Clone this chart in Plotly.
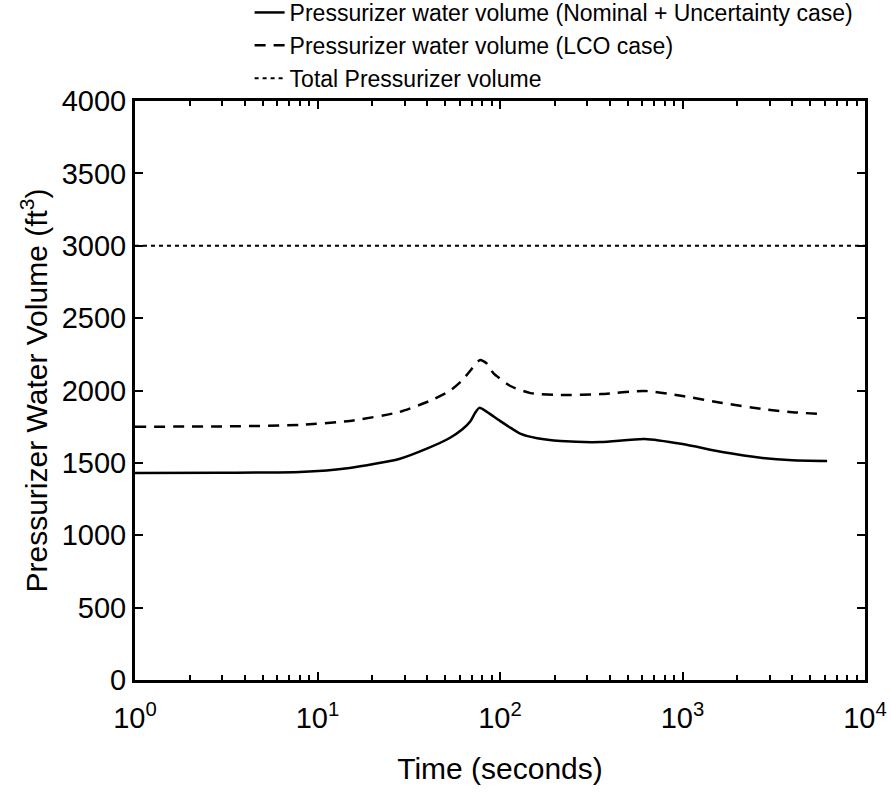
import plotly.graph_objects as go

# Data
time_nominal = [1, 3, 8, 15, 28, 40, 53, 62, 69, 73, 77, 82, 90, 100, 115, 130, 160, 215, 357, 620, 1000, 1650, 2740, 4000, 6200]
vol_nominal = [1430, 1432, 1437, 1465, 1527, 1600, 1672, 1730, 1790, 1845, 1880, 1865, 1830, 1790, 1740, 1700, 1670, 1651, 1644, 1665, 1630, 1575, 1534, 1518, 1513]

time_lco = [1, 3, 8, 15, 28, 41, 53, 62, 69, 74, 78, 84, 92, 114, 147, 215, 357, 620, 1000, 1650, 2740, 4000, 5650]
vol_lco = [1750, 1752, 1762, 1790, 1851, 1927, 1997, 2070, 2140, 2190, 2210, 2190, 2120, 2031, 1982, 1969, 1975, 1997, 1962, 1914, 1872, 1850, 1838]

time_total = [1, 10000]
vol_total = [3000, 3000]

names = [
    "Pressurizer water volume (Nominal + Uncertainty case)",
    "Pressurizer water volume (LCO case)",
    "Total Pressurizer volume",
]

x_tickvals = [1, 10, 100, 1000, 10000]
x_ticktext = ["10<sup>0</sup>", "10<sup>1</sup>", "10<sup>2</sup>", "10<sup>3</sup>", "10<sup>4</sup>"]
x_minor_vals = [m * d for d in [1, 10, 100, 1000] for m in range(2, 10)]
y_tickvals = [0, 500, 1000, 1500, 2000, 2500, 3000, 3500, 4000]

fig = go.Figure()
fig.add_trace(go.Scatter(x=time_nominal, y=vol_nominal, mode="lines", name=names[0],
                         line=dict(color="black", width=2.5, shape="spline", smoothing=0.6)))
fig.add_trace(go.Scatter(x=time_lco, y=vol_lco, mode="lines", name=names[1],
                         line=dict(color="black", width=2.5, dash="11px,8px", shape="spline", smoothing=0.6)))
fig.add_trace(go.Scatter(x=time_total, y=vol_total, mode="lines", name=names[2],
                         line=dict(color="black", width=2, dash="4px,4px")))

font_family = "Liberation Sans, Arial, sans-serif"

fig.update_layout(
    width=891, height=794,
    margin=dict(l=135, r=26, t=101, b=114, autoexpand=False),
    paper_bgcolor="white", plot_bgcolor="white",
    font=dict(family=font_family, color="black"),
    showlegend=True,
    legend=dict(x=0.157, y=1.19, xanchor="left", yanchor="top",
                font=dict(size=23, family=font_family, color="black"),
                bgcolor="rgba(0,0,0,0)", tracegroupgap=0, itemwidth=30),
)
fig.update_xaxes(
    type="log", range=[0, 4], automargin=False,
    tickvals=x_tickvals, ticktext=x_ticktext,
    ticks="inside", ticklen=8, tickwidth=2, tickcolor="black",
    minor=dict(tickvals=x_minor_vals, ticks="inside", ticklen=5, tickwidth=2, tickcolor="black", showgrid=False),
    showline=True, linewidth=3, linecolor="black", mirror="allticks",
    showgrid=False, zeroline=False, ticklabelstandoff=10,
    tickfont=dict(size=29, family=font_family),
    title=dict(text="Time (seconds)", font=dict(size=30, family=font_family), standoff=26),
)
fig.update_yaxes(
    range=[0, 4000], tickvals=y_tickvals, automargin=False,
    ticks="inside", ticklen=8, tickwidth=2, tickcolor="black",
    showline=True, linewidth=3, linecolor="black", mirror="allticks",
    showgrid=False, zeroline=False,
    tickfont=dict(size=29, family=font_family),
    title=dict(text="Pressurizer Water Volume (ft<sup>3</sup>)", font=dict(size=30, family=font_family), standoff=6),
)

fig.write_html("out.html", config={"displayModeBar": False},
               post_script="document.body.style.margin='0';")
